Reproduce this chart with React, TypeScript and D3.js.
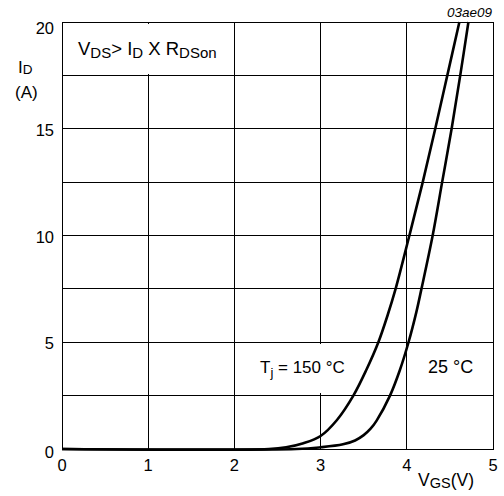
import React from 'react';
import * as d3 from 'd3';

const xTicks = [0, 1, 2, 3, 4, 5];
const yTicks = [0, 5, 10, 15, 20];
const yGrid = [2.5, 5, 7.5, 10, 12.5, 15, 17.5];

// Tj = 150 °C
const vgs150 = [0, 2.4, 2.6, 2.8, 3.0, 3.19, 3.38, 3.53, 3.67, 3.78, 3.87, 4.03, 4.185, 4.33, 4.47, 4.61];
const id150 = [0, 0, 0.08, 0.27, 0.61, 1.36, 2.5, 3.7, 5.0, 6.3, 7.5, 10, 12.5, 15, 17.5, 20];

// Tj = 25 °C
const vgs25 = [0, 2.72, 3.0, 3.26, 3.4, 3.5, 3.58, 3.65, 3.805, 3.92, 4.02, 4.11, 4.17, 4.30, 4.41, 4.52, 4.62, 4.715];
const id25 = [0, 0, 0.08, 0.22, 0.4, 0.65, 0.95, 1.33, 2.5, 3.7, 5.0, 6.4, 7.5, 10, 12.5, 15, 17.5, 20];

const FONT = '"Liberation Sans", Arial, Helvetica, sans-serif';

export default function App() {
  const W = 504;
  const H = 496;
  const x = d3.scaleLinear().domain([0, 5]).range([62, 493]);
  const y = d3.scaleLinear().domain([0, 20]).range([449, 22]);
  const line = d3
    .line<[number, number]>()
    .x((d) => x(d[0]))
    .y((d) => y(d[1]))
    .curve(d3.curveCatmullRom.alpha(0.5));

  const s150 = vgs150.map((v, i) => [v, id150[i]] as [number, number]);
  const s25 = vgs25.map((v, i) => [v, id25[i]] as [number, number]);

  const yLabelDy: Record<number, number> = { 0: 3, 5: 1, 10: 1, 15: 1, 20: 5.5 };

  return (
    <svg
      width={W}
      height={H}
      viewBox={`0 0 ${W} ${H}`}
      style={{ position: 'absolute', left: 0, top: 0, background: '#fff', display: 'block' }}
      fontFamily={FONT}
    >
      <rect x={0} y={0} width={W} height={H} fill="#fff" />
      {/* grid */}
      <g stroke="#000" strokeWidth={1} shapeRendering="crispEdges">
        {xTicks.map((t) => (
          <line key={'gx' + t} x1={x(t)} x2={x(t)} y1={y(0)} y2={y(20)} />
        ))}
        {yGrid.map((t) => (
          <line key={'gy' + t} x1={x(0)} x2={x(5)} y1={y(t)} y2={y(t)} />
        ))}
        <rect x={x(0)} y={y(20)} width={x(5) - x(0)} height={y(0) - y(20)} fill="none" />
      </g>
      {/* label backgrounds */}
      <rect x={70} y={24} width={158} height={50} fill="#fff" />
      <rect x={252} y={344} width={100} height={49} fill="#fff" />

      {/* curves */}
      <path d={line(s150) || ''} fill="none" stroke="#000" strokeWidth={2.6} strokeLinejoin="round" />
      <path d={line(s25) || ''} fill="none" stroke="#000" strokeWidth={2.6} strokeLinejoin="round" />

      {/* y tick labels */}
      <g fontSize={16.5} fill="#000" textAnchor="end">
        {yTicks.map((t) => (
          <text key={'yl' + t} x={54} y={y(t) + yLabelDy[t]} dominantBaseline="central">
            {t}
          </text>
        ))}
      </g>
      {/* x tick labels */}
      <g fontSize={16.5} fill="#000" textAnchor="middle">
        {xTicks.map((t) => (
          <text key={'xl' + t} x={x(t)} y={465} dominantBaseline="central">
            {t}
          </text>
        ))}
      </g>

      {/* axis titles */}
      <text x={18} y={73} fontSize={17}>
        I<tspan fontSize={13.5} dy={1}>D</tspan>
      </text>
      <text x={15} y={98} fontSize={17}>(A)</text>
      <text x={418} y={486} fontSize={17.5}>
        V<tspan fontSize={14.5} dy={2}>GS</tspan>
        <tspan dy={-2}>(V)</tspan>
      </text>

      {/* annotations */}
      <text x={78} y={55} fontSize={18.5}>
        V<tspan fontSize={15} dy={3}>DS</tspan>
        <tspan dy={-3}>&gt; I</tspan>
        <tspan fontSize={15} dy={3}>D</tspan>
        <tspan dy={-3}> X R</tspan>
        <tspan fontSize={15} dy={3}>DSon</tspan>
      </text>
      <text x={260} y={373} fontSize={17}>
        T<tspan fontSize={13} dy={4}>j</tspan>
        <tspan dy={-4}> = 150 °C</tspan>
      </text>
      <text x={428} y={373} fontSize={18}>25 °C</text>
      <text x={492} y={17} fontSize={13.5} fontStyle="italic" textAnchor="end">
        03ae09
      </text>
    </svg>
  );
}
